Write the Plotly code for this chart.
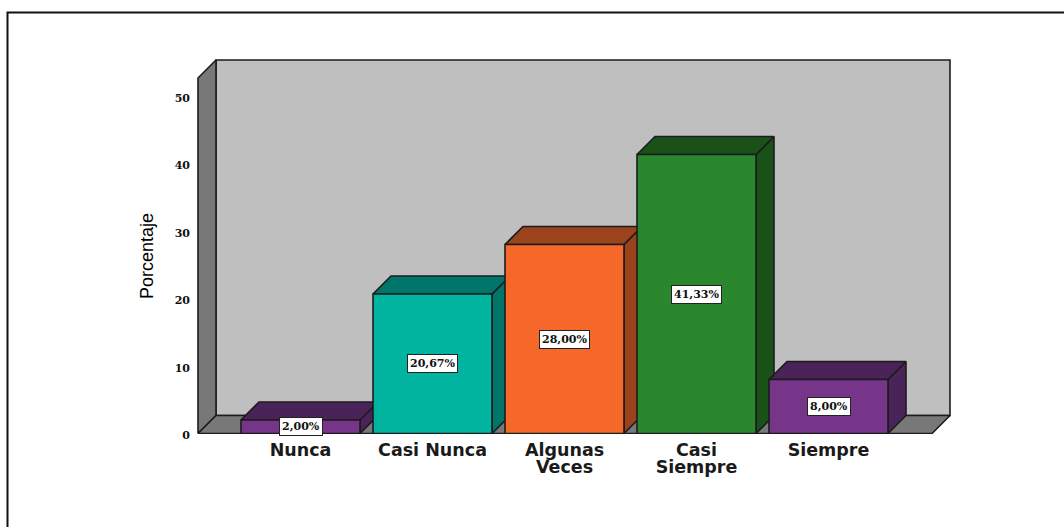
import plotly.graph_objects as go

# Data
first_line = ["Nunca", "Casi Nunca", "Algunas", "Casi", "Siempre"]
second_line = ["", "", "Veces", "Siempre", ""]
categories = ["Nunca", "Casi Nunca", "Algunas Veces", "Casi Siempre", "Siempre"]
values = [2.00, 20.67, 28.00, 41.33, 8.00]
labels = ["2,00%", "20,67%", "28,00%", "41,33%", "8,00%"]
y_ticks = [0, 10, 20, 30, 40, 50]
front_colors = ["#763589", "#00B4A0", "#F5682A", "#2A872D", "#763589"]
dark_colors = ["#4A2359", "#00756A", "#9A431C", "#1A5119", "#4A2359"]

# Scale of the pictured chart
W, H = 1064, 527
PX_X, PX_Y = 132.0, 6.75        # px per category, px per percent
X0_PX, Y0_PX = 300.5, 433.5     # pixel of category 0, pixel of value 0
DX, DY = 18 / PX_X, 18 / PX_Y   # 3D depth in data units
BAR = 119 / PX_X
L, R, T, B = 191, 956, 56, 434  # plot area px
FLOOR_L, FLOOR_R, WALL_TOP = (198 - X0_PX) / PX_X, (932 - X0_PX) / PX_X, 52.67

x_range = [(L - X0_PX) / PX_X, (R - X0_PX) / PX_X]
y_range = [(Y0_PX - B) / PX_Y, (Y0_PX - T) / PX_Y]
LINE = dict(color="#1c1c1c", width=1.6)


def poly(xs, ys, color):
    return go.Scatter(x=xs + xs[:1], y=ys + ys[:1], mode="lines", fill="toself",
                      fillcolor=color, line=LINE, hoverinfo="skip", showlegend=False,
                      cliponaxis=False)


fig = go.Figure()
# Back wall, left wall, floor
fig.add_trace(poly([FLOOR_L + DX, FLOOR_R + DX, FLOOR_R + DX, FLOOR_L + DX],
                   [DY, DY, WALL_TOP + DY, WALL_TOP + DY], "#BFBFBF"))
fig.add_trace(poly([FLOOR_L, FLOOR_L + DX, FLOOR_L + DX, FLOOR_L],
                   [0, DY, WALL_TOP + DY, WALL_TOP], "#787878"))
fig.add_trace(poly([FLOOR_L, FLOOR_L + DX, FLOOR_R + DX, FLOOR_R],
                   [0, DY, DY, 0], "#787878"))

# Extruded side and top faces
for i, v in enumerate(values):
    x1, x2 = i - BAR / 2, i + BAR / 2
    fig.add_trace(poly([x2, x2 + DX, x2 + DX, x2], [0, DY, v + DY, v], dark_colors[i]))
    fig.add_trace(poly([x1, x1 + DX, x2 + DX, x2], [v, v + DY, v + DY, v], dark_colors[i]))

# Front faces, on an overlaid axis pair so they cover the faces behind them
fig.add_trace(go.Bar(x=list(range(5)), y=values, width=BAR, xaxis="x2", yaxis="y2",
                     marker=dict(color=front_colors, line=LINE), showlegend=False,
                     cliponaxis=False,
                     customdata=categories, hovertemplate="%{customdata}: %{y}<extra></extra>"))

for i, v in enumerate(values):
    fig.add_annotation(x=i, y=v / 2, xref="x2", yref="y2", text=labels[i], showarrow=False,
                       font=dict(family="DejaVu Serif", size=11, color="#111111", weight="bold"),
                       bgcolor="white", bordercolor="#222222", borderwidth=1, borderpad=2)

fig.add_annotation(x=147 / W, y=1 - 256 / H, xref="paper", yref="paper", text="Porcentaje",
                   textangle=-90, showarrow=False, xanchor="center", yanchor="middle",
                   font=dict(family="Liberation Sans", size=18, color="#000000"))

cat_font = dict(family="DejaVu Sans", size=17.5, color="#1a1a1a", weight="bold")
fig.update_layout(
    width=W, height=H, paper_bgcolor="white", plot_bgcolor="rgba(0,0,0,0)",
    margin=dict(l=0, r=0, t=0, b=0), showlegend=False,
    xaxis=dict(domain=[L / W, R / W], range=x_range, tickmode="array", automargin=False,
               tickvals=list(range(5)), ticktext=first_line, tickfont=cat_font,
               showgrid=False, zeroline=False, showline=False, ticks="outside",
               ticklen=0, tickcolor="rgba(0,0,0,0)"),
    yaxis=dict(domain=[1 - B / H, 1 - T / H], range=y_range, tickmode="array", automargin=False,
               tickvals=y_ticks, ticktext=[str(t) for t in y_ticks],
               tickfont=dict(family="DejaVu Serif", size=11, color="#111111", weight="bold"),
               showgrid=False, zeroline=False, showline=False, ticks="", ticklabelshift=2),
    xaxis2=dict(overlaying="x", anchor="y2", range=x_range, tickmode="array", automargin=False,
                tickvals=list(range(5)), ticktext=second_line, tickfont=cat_font,
                side="bottom", showgrid=False, zeroline=False, showline=False,
                ticks="outside", ticklen=17, tickcolor="rgba(0,0,0,0)"),
    yaxis2=dict(overlaying="y", anchor="x2", range=y_range, showticklabels=False, automargin=False,
                showgrid=False, zeroline=False, showline=False, ticks=""),
    shapes=[dict(type="path", xref="paper", yref="paper",
                 path=f"M {7.5 / W} 0 L {7.5 / W} {1 - 12.5 / H} L 1 {1 - 12.5 / H}",
                 line=dict(color="#111111", width=2))],
)

fig.write_html("out.html", config={"displayModeBar": False},
               post_script="document.body.style.margin='0';document.body.style.overflow='hidden';")
